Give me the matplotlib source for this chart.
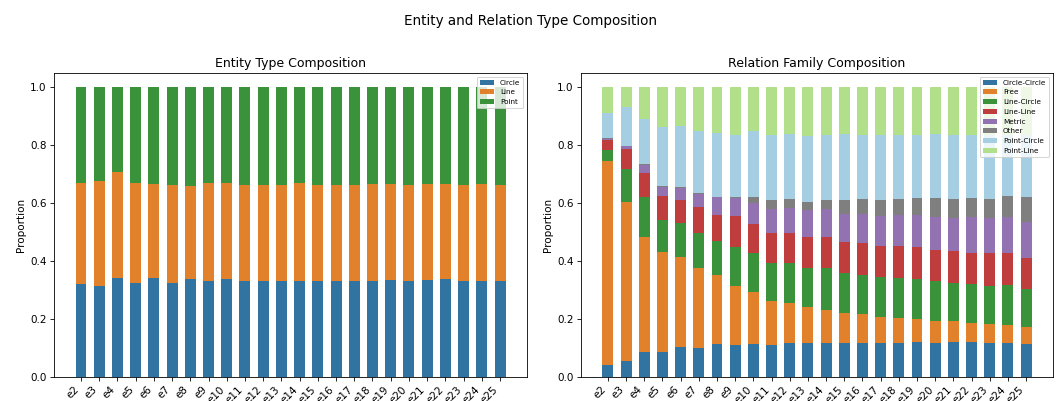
import matplotlib
matplotlib.use('Agg')
import matplotlib.pyplot as plt
import numpy as np

# graph sizes e2 .. e25
sizes = [f"e{i}" for i in range(2, 26)]

# entity type shares per size
circle = [.321, .315, .341, .325, .343, .325, .338, .330, .339, .332, .332, .333,
          .332, .333, .332, .332, .333, .336, .333, .336, .337, .332, .333, .330]
line = [.348, .362, .368, .344, .324, .338, .321, .339, .330, .331, .332, .331,
        .337, .331, .332, .332, .334, .331, .331, .331, .330, .332, .334, .333]
point = [.331, .323, .291, .331, .333, .337, .341, .331, .331, .337, .336, .336,
         .331, .336, .336, .336, .333, .333, .336, .333, .333, .336, .333, .337]

# relation family shares per size
circle_circle = [.042, .055, .085, .088, .104, .100, .114, .111, .114, .111, .116, .116,
                 .116, .116, .119, .116, .118, .120, .118, .120, .120, .118, .118, .114]
free = [.703, .548, .399, .343, .309, .278, .238, .204, .178, .150, .140, .125,
        .117, .104, .097, .090, .086, .081, .076, .072, .066, .064, .063, .058]
line_circle = [.040, .116, .137, .111, .119, .118, .119, .135, .137, .133, .138, .137,
               .143, .138, .137, .138, .137, .138, .136, .133, .136, .134, .138, .131]
line_line = [.034, .069, .085, .082, .080, .090, .090, .105, .099, .103, .103, .105,
             .108, .107, .110, .108, .110, .109, .107, .109, .108, .111, .111, .109]
metric = [.003, .009, .026, .033, .040, .045, .060, .063, .072, .083, .087, .093,
          .095, .097, .101, .105, .108, .110, .114, .115, .121, .121, .124, .124]
other = [.002, .002, .002, .003, .003, .003, .002, .003, .021, .030, .031, .028,
         .032, .051, .050, .054, .055, .060, .067, .067, .068, .068, .072, .084]
point_circle = [.088, .133, .158, .203, .213, .217, .219, .216, .227, .227, .225, .230,
                .226, .225, .223, .225, .221, .219, .220, .221, .218, .221, .211, .217]
point_line = [.088, .068, .108, .137, .132, .149, .158, .163, .152, .163, .160, .166,
              .163, .162, .163, .164, .165, .163, .162, .163, .163, .163, .163, .163]

entity_series = [("Circle", circle, "#3274a1"),
                 ("Line", line, "#e1812c"),
                 ("Point", point, "#3a923a")]

relation_series = [("Circle-Circle", circle_circle, "#3274a1"),
                   ("Free", free, "#e1812c"),
                   ("Line-Circle", line_circle, "#3a923a"),
                   ("Line-Line", line_line, "#c03d3e"),
                   ("Metric", metric, "#9372b2"),
                   ("Other", other, "#7f7f7f"),
                   ("Point-Circle", point_circle, "#a6cee3"),
                   ("Point-Line", point_line, "#b2df8a")]


def stacked(ax, series, title):
    x = np.arange(len(sizes))
    bottom = np.zeros(len(sizes))
    for name, vals, col in series:
        ax.bar(x, vals, width=0.6, bottom=bottom, color=col, label=name)
        bottom += np.array(vals)
    ax.set_xticks(x)
    ax.set_xticklabels(sizes, rotation=45, ha='right')
    ax.set_ylabel("Proportion")
    ax.set_title(title)
    ax.legend(loc='upper right', fontsize=7)


W, H, DPI = 1061, 401, 75
fig = plt.figure(figsize=(W / DPI, H / DPI), dpi=DPI)
ax1 = fig.add_axes([54 / W, 24 / H, 473 / W, 304 / H])
ax2 = fig.add_axes([581 / W, 24 / H, 472 / W, 304 / H])

stacked(ax1, entity_series, "Entity Type Composition")
stacked(ax2, relation_series, "Relation Family Composition")

fig.suptitle("Entity and Relation Type Composition", fontsize=13, y=0.965)
fig.savefig("out.png", dpi=DPI)
